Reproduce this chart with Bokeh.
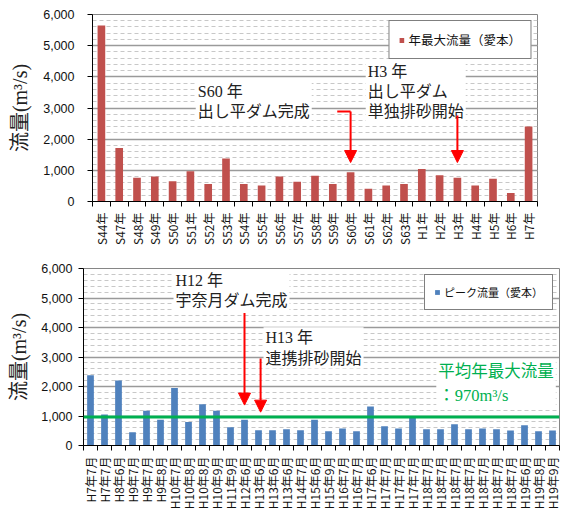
import math

from bokeh.embed import file_html
from bokeh.layouts import column
from bokeh.models import (Arrow, FixedTicker, Grid, Label, LinearAxis, NormalHead,
                          NumeralTickFormatter, Range1d, SingleIntervalTicker, Span)
from bokeh.plotting import figure
from bokeh.resources import INLINE

# Annual maximum discharge at Aimoto (m3/s)
ANNUAL_YEARS = ["S44年", "S47年", "S48年", "S49年", "S50年", "S51年", "S52年", "S53年",
                "S54年", "S55年", "S56年", "S57年", "S58年", "S59年", "S60年", "S61年",
                "S62年", "S63年", "H1年", "H2年", "H3年", "H4年", "H5年", "H6年", "H7年"]
ANNUAL_MAX = [5650, 1720, 760, 800, 650, 970, 560, 1380, 560, 510, 800, 630, 830,
              560, 940, 410, 510, 560, 1040, 840, 760, 510, 730, 270, 2410]

# Peak discharge of flood events at Aimoto (m3/s)
PEAK_EVENTS = ["H7年7月", "H7年7月", "H8年6月", "H9年7月", "H9年7月", "H9年8月",
               "H10年7月", "H10年8月", "H10年8月", "H10年9月", "H11年9月", "H12年6月",
               "H13年6月", "H13年6月", "H13年6月", "H14年7月", "H15年6月", "H15年9月",
               "H16年7月", "H16年7月", "H17年6月", "H17年7月", "H17年7月", "H17年7月",
               "H18年7月", "H18年7月", "H18年7月", "H18年7月", "H18年7月", "H18年7月",
               "H18年7月", "H19年6月", "H19年8月", "H19年9月"]
PEAK_FLOW = [2380, 1050, 2200, 450, 1180, 870, 1950, 800, 1400, 1180, 620, 870,
             520, 520, 550, 520, 870, 480, 580, 480, 1320, 650, 580, 960,
             550, 550, 720, 550, 580, 550, 510, 690, 480, 510]

MEAN_ANNUAL_MAX = 970

RED = "#c0504d"
BLUE = "#4f81bd"
GREEN = "#00b050"
ARROW_RED = "#ff0000"
SERIF_CJK = "Liberation Serif, Noto Sans CJK JP"
SANS_CJK = "Noto Sans CJK JP"


def make_chart(height, border, labels, values, color, legend_text, legend_size,
               bar_width, tick_standoff, title_standoff):
    n = len(labels)
    left, right, top, bottom = border
    p = figure(width=565, height=height, x_range=Range1d(-0.5, n - 0.5),
               y_range=Range1d(0, 6000), x_axis_type=None, y_axis_type=None,
               output_backend="svg", toolbar_location=None,
               min_border_left=left, min_border_right=right,
               min_border_top=top, min_border_bottom=bottom)
    p.frame_align = False
    p.background_fill_color = "white"
    p.border_fill_color = "white"
    p.outline_line_color = "#868686"
    p.outline_line_width = 1

    # value axis
    yaxis = LinearAxis(ticker=SingleIntervalTicker(interval=1000, num_minor_ticks=5),
                       formatter=NumeralTickFormatter(format="0,0"))
    yaxis.axis_label = "流量(m³/s)"
    yaxis.axis_label_text_font = SERIF_CJK
    yaxis.axis_label_text_font_size = "20px"
    yaxis.axis_label_text_font_style = "normal"
    yaxis.axis_label_text_color = "#222222"
    yaxis.axis_label_standoff = title_standoff
    yaxis.major_label_text_font = "Liberation Sans"
    yaxis.major_label_text_font_size = "12.5px"
    yaxis.major_label_text_color = "#111111"
    yaxis.major_label_standoff = tick_standoff
    yaxis.major_tick_in = 0
    yaxis.major_tick_out = 5
    yaxis.minor_tick_line_color = None
    yaxis.axis_line_color = "black"
    yaxis.major_tick_line_color = "black"
    p.add_layout(yaxis, "left")

    # solid lines every 1,000 and dashed lines every 200
    grid = Grid(dimension=1, ticker=yaxis.ticker)
    grid.grid_line_color = "#9a9a9a"
    grid.grid_line_width = 1.5
    grid.minor_grid_line_color = "#c8c8c8"
    grid.minor_grid_line_dash = "4 3"
    grid.minor_grid_line_width = 1
    p.add_layout(grid)

    # tick marks between the categories (no labels of their own)
    idx = list(range(n))
    edges = [i - 0.5 for i in range(n + 1)]
    tick_axis = LinearAxis(ticker=FixedTicker(ticks=edges))
    tick_axis.major_label_text_font_size = "1px"
    tick_axis.major_label_text_color = None
    tick_axis.major_label_standoff = 0
    tick_axis.major_tick_in = 0
    tick_axis.major_tick_out = 5
    tick_axis.minor_tick_line_color = None
    tick_axis.axis_line_color = "black"
    tick_axis.major_tick_line_color = "black"
    p.add_layout(tick_axis, "below")

    # category names, rotated
    name_axis = LinearAxis(ticker=FixedTicker(ticks=idx),
                           major_label_overrides={i: lab for i, lab in zip(idx, labels)})
    name_axis.major_label_orientation = math.pi / 2
    name_axis.major_label_text_font = SANS_CJK
    name_axis.major_label_text_font_size = "12px"
    name_axis.major_label_text_color = "#111111"
    name_axis.major_label_standoff = 6
    name_axis.major_tick_in = 0
    name_axis.major_tick_out = 0
    name_axis.major_tick_line_color = None
    name_axis.minor_tick_line_color = None
    name_axis.axis_line_color = None
    p.add_layout(name_axis, "below")

    p.vbar(x=idx, top=values, width=bar_width, fill_color=color, line_color=None,
           legend_label=legend_text)

    lg = p.legend[0]
    lg.location = "top_right"
    lg.margin = 6
    lg.padding = 9
    lg.spacing = 0
    lg.glyph_width = 6
    lg.glyph_height = 6
    lg.label_standoff = 4
    lg.label_height = 10
    lg.label_text_font = SANS_CJK
    lg.label_text_font_size = legend_size
    lg.label_text_color = "#111111"
    lg.border_line_color = "black"
    lg.border_line_width = 1.2
    lg.background_fill_color = "white"
    lg.background_fill_alpha = 1
    return p


def note(p, x, y, text, color="#222222", size="16px", line_height=1.2):
    p.add_layout(Label(x=x, y=y, text=text, text_align="left", text_baseline="top",
                       text_font=SERIF_CJK, text_font_size=size, text_color=color,
                       text_line_height=line_height,
                       background_fill_color="white", background_fill_alpha=1,
                       padding=2))


def arrow(p, x, y0, y1):
    p.add_layout(Arrow(end=NormalHead(size=12, fill_color=ARROW_RED, line_color=ARROW_RED),
                       x_start=x, y_start=y0, x_end=x, y_end=y1,
                       line_color=ARROW_RED, line_width=2))


# --- annual maximum chart ---
top = make_chart(258, (92, 28, 14, 57), ANNUAL_YEARS, ANNUAL_MAX, RED,
                 "年最大流量（愛本）", "12.5px", 0.43, 13, 9)
note(top, 5.3, 3880, "S60 年\n出し平ダム完成")
note(top, 14.85, 4520, "H3 年\n出し平ダム\n単独排砂開始")
s60 = ANNUAL_YEARS.index("S60年")
h3 = ANNUAL_YEARS.index("H3年")
top.line(x=[s60 - 0.75, s60], y=[2885, 2885], line_color=ARROW_RED, line_width=2)
arrow(top, s60, 2885, 1250)
arrow(top, h3, 2760, 1250)

# --- flood peak chart ---
bottom = make_chart(260, (83, 6, 10, 73), PEAK_EVENTS, PEAK_FLOW, BLUE,
                    "ピーク流量（愛本）", "11px", 0.48, 6, 8)
bottom.add_layout(Span(location=MEAN_ANNUAL_MAX, dimension="width",
                       line_color=GREEN, line_width=3))
note(bottom, 5.93, 5965, "H12 年\n宇奈月ダム完成")
note(bottom, 12.36, 4010, "H13 年\n連携排砂開始")
note(bottom, 24.7, 2914, f"平均年最大流量\n：{MEAN_ANNUAL_MAX}m³/s", color=GREEN,
     size="16.5px", line_height=1.3)
h12 = PEAK_EVENTS.index("H12年6月")
h13 = PEAK_EVENTS.index("H13年6月")
arrow(bottom, h12, 4490, 1370)
arrow(bottom, h13 + 0.15, 2950, 1130)

layout = column(top, bottom, spacing=0)
open("out.html", "w").write(file_html(layout, INLINE))
